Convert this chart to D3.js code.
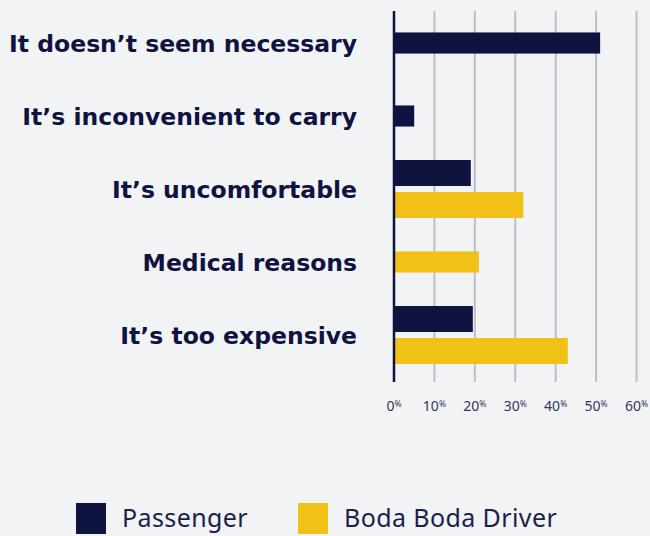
<!DOCTYPE html>
<html>
<head>
<meta charset="utf-8">
<script src="https://cdn.jsdelivr.net/npm/d3@7"></script>
<style>
  body { margin: 0; background: #f2f3f5; }
</style>
</head>
<body>
<div id="chart"></div>
<script>
const categories = ["It doesn’t seem necessary", "It’s inconvenient to carry", "It’s uncomfortable", "Medical reasons", "It’s too expensive"];
const seriesNames = ["Passenger", "Boda Boda Driver"];
const passengerValues = [51, 5, 19, null, 19.5];
const driverValues = [null, null, 32, 21, 43];
const tickValues = [0, 10, 20, 30, 40, 50, 60];

const colors = ["#0e1340", "#f2c118"];
const navy = "#0e1340";

const width = 650, height = 536;

const svg = d3.select("#chart")
  .append("svg")
    .attr("width", width)
    .attr("height", height)
    .style("background-color", "#f2f3f5");

const x = d3.scaleLinear().domain([0, 60]).range([394, 636.5]);
const y = d3.scaleBand().domain(categories).range([6.5, 371.5]);

const rows = categories.map(function(c, i) {
  const vals = [passengerValues[i], driverValues[i]];
  const bars = [];
  vals.forEach(function(v, k) { if (v !== null) bars.push({ key: seriesNames[k], value: v, color: colors[k] }); });
  return { category: c, bars: bars };
});

// gridlines
svg.append("g")
  .selectAll("line")
  .data(tickValues.slice(1)).enter()
  .append("line")
    .attr("x1", function(d) { return x(d); })
    .attr("x2", function(d) { return x(d); })
    .attr("y1", 11)
    .attr("y2", 382)
    .style("stroke", "#bebdca")
    .style("stroke-width", 2);

// bars
const groups = svg.append("g")
  .selectAll("g")
  .data(rows).enter()
  .append("g")
    .attr("transform", function(d) { return "translate(0," + (y(d.category) + y.bandwidth() / 2) + ")"; });

groups.each(function(d) {
  const n = d.bars.length;
  const half = (n * 32 - 6) / 2;
  const inner = d3.scaleBand()
    .domain(d.bars.map(function(b) { return b.key; }))
    .range([-half, half])
    .paddingInner(0.1875)
    .paddingOuter(0);
  d3.select(this).selectAll("rect")
    .data(d.bars).enter()
    .append("rect")
      .attr("x", x(0))
      .attr("y", function(b) { return inner(b.key); })
      .attr("width", function(b) { return x(b.value) - x(0); })
      .attr("height", inner.bandwidth())
      .attr("fill", function(b) { return b.color; });
});

// axis line
svg.append("line")
  .attr("x1", x(0))
  .attr("x2", x(0))
  .attr("y1", 11)
  .attr("y2", 382)
  .style("stroke", navy)
  .style("stroke-width", 2.5);

// category labels
svg.append("g")
  .selectAll("text")
  .data(categories).enter()
  .append("text")
    .attr("x", 357)
    .attr("y", function(d) { return y(d) + y.bandwidth() / 2; })
    .attr("dy", "0.38em")
    .attr("text-anchor", "end")
    .attr("font-family", "'DejaVu Sans', sans-serif")
    .attr("font-weight", "bold")
    .attr("font-size", 23.5)
    .attr("fill", navy)
    .text(function(d) { return d; });

// tick labels
const ticks = svg.append("g")
  .selectAll("text")
  .data(tickValues).enter()
  .append("text")
    .attr("x", function(d) { return x(d); })
    .attr("y", 411)
    .attr("text-anchor", "middle")
    .attr("font-family", "'Noto Sans', sans-serif")
    .attr("font-size", 14)
    .attr("fill", "#33365a");
ticks.append("tspan").text(function(d) { return d; });
ticks.append("tspan")
  .attr("font-size", 8.5)
  .attr("dy", -4.5)
  .text("%");

// legend
const legend = svg.append("g")
  .selectAll("g")
  .data(seriesNames).enter()
  .append("g")
    .attr("transform", function(d, i) { return "translate(" + [76, 298][i] + ",503)"; });
legend.append("rect")
  .attr("width", 30)
  .attr("height", 31)
  .attr("fill", function(d, i) { return colors[i]; });
legend.append("text")
  .attr("x", 46)
  .attr("y", 24)
  .attr("font-family", "'Noto Sans', sans-serif")
  .attr("font-size", 25)
  .attr("letter-spacing", 0.4)
  .attr("fill", "#1b1f4a")
  .text(function(d) { return d; });
</script>
</body>
</html>
